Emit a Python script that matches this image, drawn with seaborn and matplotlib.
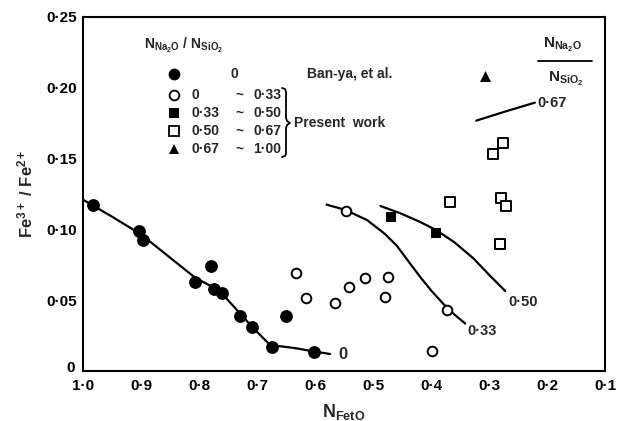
import matplotlib
matplotlib.use("Agg")
import matplotlib.pyplot as plt
import matplotlib.transforms as mtransforms
import seaborn as sns

# ---------------- data ----------------
x_ticks = [1.0, 0.9, 0.8, 0.7, 0.6, 0.5, 0.4, 0.3, 0.2, 0.1]
x_tick_labels = ["1·0", "0·9", "0·8", "0·7", "0·6", "0·5", "0·4", "0·3", "0·2", "0·1"]
y_ticks = [0, 0.05, 0.10, 0.15, 0.20, 0.25]
y_tick_labels = ["0", "0·05", "0·10", "0·15", "0·20", "0·25"]

# Ban-ya et al. (ratio 0)
banya_x = [0.983, 0.903, 0.896, 0.807, 0.779, 0.775, 0.761, 0.729, 0.708, 0.675, 0.650, 0.602]
banya_y = [0.117, 0.099, 0.0925, 0.063, 0.074, 0.058, 0.055, 0.039, 0.031, 0.0167, 0.039, 0.0136]
# Present work 0 ~ 0.33 (open circles)
g1_x = [0.633, 0.616, 0.566, 0.541, 0.514, 0.474, 0.479, 0.547, 0.373, 0.398]
g1_y = [0.069, 0.0513, 0.0478, 0.0595, 0.0657, 0.0662, 0.0523, 0.1133, 0.0431, 0.0141]
# 0.33 ~ 0.50 (filled squares)
g2_x = [0.469, 0.391]
g2_y = [0.1085, 0.0977]
# 0.50 ~ 0.67 (open squares)
g3_x = [0.368, 0.293, 0.276, 0.279, 0.271, 0.281]
g3_y = [0.119, 0.1535, 0.161, 0.122, 0.1165, 0.090]
# 0.67 ~ 1.00 (triangle)
g4_x = [0.307]
g4_y = [0.208]

# iso-ratio curves
c0_x = [1.0, 0.95, 0.90, 0.807, 0.775, 0.76, 0.73, 0.708, 0.69, 0.675, 0.66, 0.632, 0.602, 0.574]
c0_y = [0.121, 0.109, 0.0965, 0.066, 0.059, 0.0545, 0.041, 0.031, 0.0235, 0.0175, 0.0175, 0.016, 0.0138, 0.012]
c33_x = [0.580, 0.547, 0.510, 0.480, 0.459, 0.439, 0.419, 0.399, 0.379, 0.360, 0.341]
c33_y = [0.1175, 0.1137, 0.1065, 0.0970, 0.0885, 0.0775, 0.0666, 0.0565, 0.0475, 0.0400, 0.0335]
c50_x = [0.487, 0.453, 0.420, 0.391, 0.360, 0.327, 0.300, 0.272]
c50_y = [0.1165, 0.1114, 0.1055, 0.0995, 0.0910, 0.0796, 0.0680, 0.0565]
c67_x = [0.322, 0.27, 0.221]
c67_y = [0.1768, 0.1835, 0.1895]

curve_labels = ["0", "0·33", "0·50", "0·67"]
legend_lo = ["0", "0", "0·33", "0·50", "0·67"]
legend_hi = ["", "0·33", "0·50", "0·67", "1·00"]

# ---------------- style ----------------
sns.set_theme(style="white")
plt.rcParams["font.family"] = ["Liberation Sans", "DejaVu Sans"]
plt.rcParams["font.weight"] = "bold"
plt.rcParams["mathtext.fontset"] = "custom"
plt.rcParams["mathtext.rm"] = "Liberation Sans:bold"
plt.rcParams["mathtext.it"] = "Liberation Sans:bold"
plt.rcParams["mathtext.bf"] = "Liberation Sans:bold"
plt.rcParams["mathtext.sf"] = "Liberation Sans:bold"

W, H = 620, 421
fig = plt.figure(figsize=(W / 100, H / 100), dpi=100)
L, R, T, B = 83, 605, 17, 371
ax = fig.add_axes([L / W, (H - B) / H, (R - L) / W, (B - T) / H])

def fx(px):
    return (px - L) / (R - L)

def fy(py):
    return (B - py) / (B - T)

lw = 1.6
k = "black"
for cx, cy in [(c0_x, c0_y), (c33_x, c33_y), (c50_x, c50_y), (c67_x, c67_y)]:
    sns.lineplot(x=cx, y=cy, sort=False, estimator=None, color=k, lw=lw, ax=ax)

sns.scatterplot(x=banya_x, y=banya_y, marker="o", s=85, color=k, edgecolor=k, linewidth=0, ax=ax, zorder=5)
sns.scatterplot(x=g1_x, y=g1_y, marker="o", s=48, facecolor="white", edgecolor=k, linewidth=1.4, ax=ax, zorder=5)
sns.scatterplot(x=g2_x, y=g2_y, marker="s", s=62, color=k, edgecolor=k, linewidth=0, ax=ax, zorder=5)
sns.scatterplot(x=g3_x, y=g3_y, marker="s", s=42, facecolor="white", edgecolor=k, linewidth=1.4, ax=ax, zorder=5)
sns.scatterplot(x=g4_x, y=g4_y, marker="^", s=62, color=k, edgecolor=k, linewidth=0, ax=ax, zorder=5)

ax.set_xlim(1.0, 0.1)
ax.set_ylim(0, 0.25)
ax.set_xticks(x_ticks)
ax.set_xticklabels(x_tick_labels, fontsize=11, fontweight="bold")
ax.set_yticks(y_ticks)
ax.set_yticklabels(y_tick_labels, fontsize=11, fontweight="bold")
ax.tick_params(direction="in", length=3, width=1.2, colors=k)
ax.tick_params(axis="y", pad=4)
ax.tick_params(axis="x", pad=6)
for sp in ax.spines.values():
    sp.set_color(k)
    sp.set_linewidth(1.5)
    sp.set_visible(True)

# lift the y "0" label a little, as in the original
off = mtransforms.ScaledTranslation(-3 / 100, 4 / 100, fig.dpi_scale_trans)
ylab0 = ax.get_yticklabels()[0]
ylab0.set_transform(ylab0.get_transform() + off)

ax.set_xlabel(r"$\mathrm{N_{FetO}}$", fontsize=13, labelpad=6)
ax.set_ylabel(r"$\mathrm{Fe^{3+}\ /\ Fe^{2+}}$", fontsize=12, labelpad=8)

# curve labels
tfs = 10.5
ax.text(0.552, 0.0113, curve_labels[0], fontsize=12, fontweight="bold", ha="center", va="center")
ax.text(0.3126, 0.0285, curve_labels[1], fontsize=tfs, fontweight="bold", ha="center", va="center")
ax.text(0.242, 0.049, curve_labels[2], fontsize=tfs, fontweight="bold", ha="center", va="center")
ax.text(0.217, 0.1896, curve_labels[3], fontsize=tfs, fontweight="bold", ha="left", va="center")

# right-hand fraction label
ax.text(fx(563), fy(45), r"$\mathrm{N_{Na_2O}}$", transform=ax.transAxes, fontsize=11, ha="center", va="center")
ax.plot([fx(538), fx(592)], [fy(61), fy(61)], transform=ax.transAxes, color=k, lw=1.3)
ax.text(fx(566), fy(79), r"$\mathrm{N_{SiO_2}}$", transform=ax.transAxes, fontsize=11, ha="center", va="center")

# legend block
lfs = 10
ax.text(fx(184), fy(45), r"$\mathrm{N_{Na_2O}\ /\ N_{SiO_2}}$", transform=ax.transAxes, fontsize=10, ha="center", va="center")
rows = [74, 95, 113, 131, 149]
mk = [("o", k, 8.5, 0), ("o", "white", 7, 1.3), ("s", k, 7.5, 0), ("s", "white", 6.5, 1.3), ("^", k, 7.5, 0)]
for py, (m, fc, ms, mew) in zip(rows, mk):
    ax.plot([fx(174)], [fy(py)], transform=ax.transAxes, marker=m, ms=ms, mfc=fc, mec=k, mew=mew, ls="none", clip_on=False)
ax.text(fx(234), fy(rows[0]), legend_lo[0], transform=ax.transAxes, fontsize=lfs, ha="center", va="center")
for py, lo, hi in zip(rows[1:], legend_lo[1:], legend_hi[1:]):
    ax.text(fx(192), fy(py), lo, transform=ax.transAxes, fontsize=lfs, ha="left", va="center")
    ax.text(fx(240), fy(py), "~", transform=ax.transAxes, fontsize=lfs, ha="center", va="center")
    ax.text(fx(281), fy(py), hi, transform=ax.transAxes, fontsize=lfs, ha="right", va="center")
ax.text(fx(307), fy(rows[0]), "Ban-ya, et al.", transform=ax.transAxes, fontsize=lfs, ha="left", va="center")
ax.text(fx(294), fy(123), "Present  work", transform=ax.transAxes, fontsize=lfs, ha="left", va="center")
# brace
bx = [282, 285, 286, 286, 287, 290, 287, 286, 286, 285, 282]
by = [88, 89, 92, 118, 121, 123, 125, 128, 154, 156, 157]
ax.plot([fx(v) for v in bx], [fy(v) for v in by], transform=ax.transAxes, color=k, lw=1.3)

fig.savefig("out.png", dpi=100, facecolor="white")
